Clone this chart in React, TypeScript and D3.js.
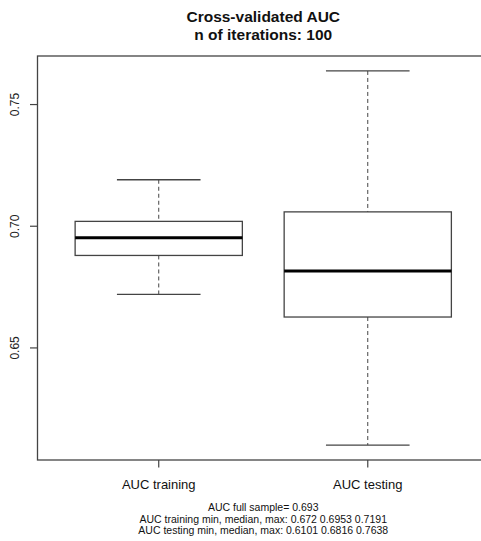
import React, { useEffect, useRef } from "react";
import * as d3 from "d3";

// box stats: min, q1, median, q3, max
const groups = ["AUC training", "AUC testing"];
const mins = [0.672, 0.6101];
const q1s = [0.688, 0.6627];
const medians = [0.6953, 0.6816];
const q3s = [0.702, 0.7059];
const maxs = [0.7191, 0.7638];
const yTicks = [0.65, 0.7, 0.75];
const titleLines = ["Cross-validated AUC", "n of iterations: 100"];
const footLines = [
  "AUC full sample= 0.693",
  "AUC training min, median, max: 0.672 0.6953 0.7191",
  "AUC testing min, median, max: 0.6101 0.6816 0.7638",
];

const App = () => {
  const ref = useRef<SVGSVGElement>(null);

  useEffect(() => {
    const svg = d3.select(ref.current);
    svg.selectAll("*").remove();
    const font = "'Liberation Sans', Arial, sans-serif";
    const line = "#444";

    // R style: 4% extension of the data range
    const lo = d3.min(mins)!, hi = d3.max(maxs)!;
    const pad = (hi - lo) * 0.04;
    const y = d3.scaleLinear().domain([lo - pad, hi + pad]).range([460, 56]);
    const x = d3.scaleLinear().domain([0.42, 2.58]).range([37.5, 489]);

    svg.append("rect")
      .attr("x", x(0.42)).attr("y", y.range()[1])
      .attr("width", x(2.58) - x(0.42)).attr("height", y.range()[0] - y.range()[1])
      .attr("fill", "none").attr("stroke", line).attr("stroke-width", 1.3);

    const g = svg.selectAll("g.box").data(groups).join("g").attr("class", "box");
    const bw = 0.4, cw = 0.2;

    g.append("line")
      .attr("x1", (d, i) => x(i + 1)).attr("x2", (d, i) => x(i + 1))
      .attr("y1", (d, i) => y(maxs[i])).attr("y2", (d, i) => y(q3s[i]))
      .attr("stroke", line).attr("stroke-dasharray", "4,3");
    g.append("line")
      .attr("x1", (d, i) => x(i + 1)).attr("x2", (d, i) => x(i + 1))
      .attr("y1", (d, i) => y(q1s[i])).attr("y2", (d, i) => y(mins[i]))
      .attr("stroke", line).attr("stroke-dasharray", "4,3");
    g.append("line")
      .attr("x1", (d, i) => x(i + 1 - cw)).attr("x2", (d, i) => x(i + 1 + cw))
      .attr("y1", (d, i) => y(maxs[i])).attr("y2", (d, i) => y(maxs[i]))
      .attr("stroke", line).attr("stroke-width", 1.3);
    g.append("line")
      .attr("x1", (d, i) => x(i + 1 - cw)).attr("x2", (d, i) => x(i + 1 + cw))
      .attr("y1", (d, i) => y(mins[i])).attr("y2", (d, i) => y(mins[i]))
      .attr("stroke", line).attr("stroke-width", 1.3);
    g.append("rect")
      .attr("x", (d, i) => x(i + 1 - bw)).attr("width", x(2 * bw) - x(0))
      .attr("y", (d, i) => y(q3s[i])).attr("height", (d, i) => y(q1s[i]) - y(q3s[i]))
      .attr("fill", "none").attr("stroke", line).attr("stroke-width", 1.3);
    g.append("line")
      .attr("x1", (d, i) => x(i + 1 - bw)).attr("x2", (d, i) => x(i + 1 + bw))
      .attr("y1", (d, i) => y(medians[i])).attr("y2", (d, i) => y(medians[i]))
      .attr("stroke", "#000").attr("stroke-width", 3);

    // y axis
    const ya = svg.append("g");
    yTicks.forEach(t => {
      ya.append("line").attr("x1", 30).attr("x2", 37.5).attr("y1", y(t)).attr("y2", y(t))
        .attr("stroke", line).attr("stroke-width", 1.2);
      ya.append("text")
        .attr("transform", `translate(19,${y(t)}) rotate(-90)`)
        .attr("text-anchor", "middle").attr("font-family", font).attr("font-size", 12)
        .attr("fill", "#222").text(d3.format(".2f")(t));
    });

    // x axis
    groups.forEach((gname, i) => {
      svg.append("line").attr("x1", x(i + 1)).attr("x2", x(i + 1)).attr("y1", 460).attr("y2", 467.5)
        .attr("stroke", line).attr("stroke-width", 1.2);
      svg.append("text").attr("x", x(i + 1)).attr("y", 489)
        .attr("text-anchor", "middle").attr("font-family", font).attr("font-size", 13)
        .attr("fill", "#111").text(gname);
    });

    const cx = (x(0.42) + x(2.58)) / 2;
    titleLines.forEach((t, i) => {
      svg.append("text").attr("x", cx).attr("y", 22 + i * 18)
        .attr("text-anchor", "middle").attr("font-family", font).attr("font-size", 15.5)
        .attr("font-weight", "bold").attr("fill", "#111").text(t);
    });
    footLines.forEach((t, i) => {
      svg.append("text").attr("x", cx).attr("y", 511 + i * 11.7)
        .attr("text-anchor", "middle").attr("font-family", font).attr("font-size", 10.5)
        .attr("fill", "#111").text(t);
    });
  }, []);

  return (
    <svg ref={ref} width={481} height={541}
      style={{ position: "absolute", left: 0, top: 0, background: "#fff" }} />
  );
};

export default App;
